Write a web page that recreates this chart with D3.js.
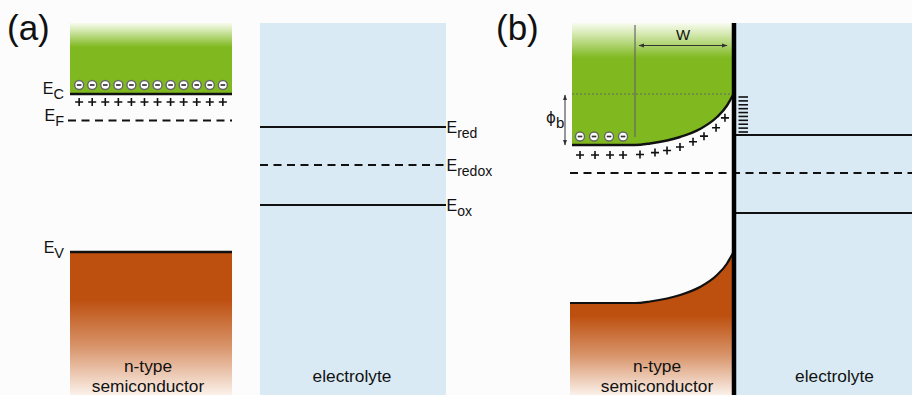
<!DOCTYPE html>
<html>
<head>
<meta charset="utf-8">
<script src="https://cdn.jsdelivr.net/npm/d3@7"></script>
<style>
  html, body { margin: 0; padding: 0; background: #fcfcfc; }
  svg { display: block; }
  text { font-family: "Liberation Sans", Arial, sans-serif; fill: #111; }
</style>
</head>
<body>
<svg id="chart" width="912" height="395"></svg>
<script>
// ---- band-diagram values (energies in eV, relative to the flat-band E_C) ----
const panelLabels = ["(a)", "(b)"];
const semiLevelNames = ["C", "F", "V"];
const semiLevelsA = [0, -0.265, -1.58];          // E_C, E_F, E_V before contact
const redoxNames = ["red", "redox", "ox"];
const redoxLevels = [-0.33, -0.71, -1.11];       // E_red, E_redox, E_ox
const bandGap = 1.58;
const bulkConductionB = -0.43;                   // bulk E_C after equilibration
const barrierHeight = 0.50;                      // phi_b
const electronCountA = 12;
const holeCountA = 12;
// band-bending profile: depth (in units of W) vs fraction of phi_b
const bendDepth    = [0, 0.031, 0.061, 0.163, 0.337, 0.54, 0.673, 0.847, 1.0, 1.64];
const bendFraction = [1, 0.89, 0.79, 0.56, 0.32, 0.16, 0.09, 0.03, 0.0, 0.0];
const electronDepthB = [1.561, 1.418, 1.265, 1.122];
const holeDepthB = [1.561, 1.408, 1.255, 1.122, 0.949, 0.796, 0.673, 0.541, 0.408, 0.296, 0.173, 0.082];
const surfaceStateRange = [0.05, -0.30];
const surfaceStateCount = 10;
const wArrowDepth = [0.061, 0.959];
const sideLabels = ["n-type", "semiconductor", "electrolyte"];

// ---- geometry ----
const yTop = 23, yBottom = 395;
const A = { semi: [70, 232], elec: [260, 446] };
const B = { semi: [572, 733], iface: 734, elec: [736, 912] };
const green = "#7fb91f", orange = "#bd4f0f", electrolyteFill = "#daeaf5";
const labelSize = 17.3;

const svg = d3.select("#chart");
const defs = svg.append("defs");

function vGrad(id, stops, y1, y2) {
  const g = defs.append("linearGradient").attr("id", id)
    .attr("gradientUnits", "userSpaceOnUse")
    .attr("x1", 0).attr("x2", 0).attr("y1", y1).attr("y2", y2);
  stops.forEach(([o, c]) => g.append("stop").attr("offset", o).attr("stop-color", c));
}
vGrad("greenA", [[0, "#fbfdf6"], [0.3, "#d9ebb8"], [1, green]], 22, 47);
vGrad("greenB", [[0, "#fbfdf6"], [0.3, "#d9ebb8"], [1, green]], 22, 58);
vGrad("orangeA", [[0, orange], [0.33, orange], [0.66, "#d8946a"], [1, "#fbf1ea"]], 252, 395);
vGrad("orangeB", [[0, orange], [0.44, orange], [0.72, "#d8946a"], [1, "#fbf1ea"]], 253, 395);

// arrow markers
["start", "end"].forEach(k => {
  defs.append("marker").attr("id", "arr-" + k)
    .attr("viewBox", "0 0 10 10").attr("refX", k === "end" ? 9 : 1).attr("refY", 5)
    .attr("markerWidth", 6).attr("markerHeight", 6)
    .attr("orient", "auto")
    .append("path")
    .attr("d", k === "end" ? "M0,1.5 L10,5 L0,8.5 Z" : "M10,1.5 L0,5 L10,8.5 Z")
    .attr("fill", "#333");
});

// energy scales for each panel
const yA = d3.scaleLinear().domain([0, -1]).range([94, 194]);
const yB = d3.scaleLinear().domain([0, -1]).range([102, 202]);
const xDepth = d3.scaleLinear().domain([0, 1]).range([B.iface - 1, 635]);
const bend = d3.scaleLinear().domain(bendDepth).range(bendFraction).clamp(true);
const ecB = d => bulkConductionB + barrierHeight * bend(d);
const evB = d => ecB(d) - bandGap;

const eSlot = d3.scalePoint().domain(d3.range(electronCountA)).range(A.semi).padding(0.7);
const hSlot = d3.scalePoint().domain(d3.range(holeCountA)).range(A.semi).padding(0.7);

function electron(g, x, y) {
  g.append("circle").attr("cx", x).attr("cy", y).attr("r", 4.5)
    .attr("fill", "#fff").attr("stroke", "#666").attr("stroke-width", 1.4);
  g.append("line").attr("x1", x - 2.3).attr("x2", x + 2.3).attr("y1", y).attr("y2", y)
    .attr("stroke", "#333").attr("stroke-width", 1.7);
}
function hole(g, x, y) {
  g.append("path").attr("d", `M${x - 4},${y}H${x + 4}M${x},${y - 4}V${y + 4}`)
    .attr("stroke", "#111").attr("stroke-width", 1.6).attr("fill", "none");
}
function level(g, x0, x1, y, dashed, w) {
  g.append("line").attr("x1", x0).attr("x2", x1).attr("y1", y).attr("y2", y)
    .attr("stroke", "#111").attr("stroke-width", w || 2)
    .attr("stroke-dasharray", dashed ? "8,5.5" : null);
}
function eLabel(g, x, y, sub, anchor, size, subSize, dy) {
  const t = g.append("text").attr("x", x).attr("y", y).attr("text-anchor", anchor)
    .style("font-size", size + "px");
  t.append("tspan").text("E");
  t.append("tspan").attr("dy", dy).style("font-size", subSize + "px").text(sub);
}

// ================= panel (a) =================
const ga = svg.append("g");
ga.append("text").attr("x", 7).attr("y", 40).style("font-size", "35px").text(panelLabels[0]);

// conduction band
ga.append("rect").attr("x", A.semi[0]).attr("y", yTop).attr("width", A.semi[1] - A.semi[0])
  .attr("height", yA(semiLevelsA[0]) - yTop).attr("fill", "url(#greenA)");
// valence band
ga.append("rect").attr("x", A.semi[0]).attr("y", yA(semiLevelsA[2])).attr("width", A.semi[1] - A.semi[0])
  .attr("height", yBottom - yA(semiLevelsA[2])).attr("fill", "url(#orangeA)");
// electrolyte
ga.append("rect").attr("x", A.elec[0]).attr("y", yTop).attr("width", A.elec[1] - A.elec[0])
  .attr("height", yBottom - yTop).attr("fill", electrolyteFill);

level(ga, A.semi[0], A.semi[1], yA(semiLevelsA[0]), false, 2.6);
level(ga, A.semi[0] - 2, A.semi[1], yA(semiLevelsA[1]), true, 2);
level(ga, A.semi[0], A.semi[1], yA(semiLevelsA[2]), false, 2.4);

d3.range(electronCountA).forEach(i => electron(ga, eSlot(i), yA(semiLevelsA[0]) - 9));
d3.range(holeCountA).forEach(i => hole(ga, hSlot(i), yA(semiLevelsA[0]) + 8));

semiLevelNames.forEach((n, i) => {
  eLabel(ga, 64, yA(semiLevelsA[i]) + (i === 2 ? 1 : 0), n, "end", 16, 14.5, 5);
});

redoxLevels.forEach((e, i) => {
  level(ga, A.elec[0], A.elec[1], yA(e), i === 1, 2);
  eLabel(ga, A.elec[1] + 0.5, yA(e) + 6, redoxNames[i], "start", 16, 14, 5);
});

ga.append("text").attr("x", 148).attr("y", 372).attr("text-anchor", "middle")
  .style("font-size", labelSize + "px").text(sideLabels[0]);
ga.append("text").attr("x", 148).attr("y", 392).attr("text-anchor", "middle")
  .style("font-size", labelSize + "px").text(sideLabels[1]);
ga.append("text").attr("x", 352).attr("y", 382).attr("text-anchor", "middle")
  .style("font-size", labelSize + "px").text(sideLabels[2]);

// ================= panel (b) =================
const gb = svg.append("g");
gb.append("text").attr("x", 496).attr("y", 40).style("font-size", "35px").text(panelLabels[1]);

const depthsAsc = bendDepth.slice().reverse();   // left-to-right ordering in x
const deepest = bendDepth[bendDepth.length - 1];

// electrolyte
gb.append("rect").attr("x", B.elec[0]).attr("y", yTop).attr("width", B.elec[1] - B.elec[0])
  .attr("height", yBottom - yTop).attr("fill", electrolyteFill);

const ptsC = depthsAsc.map(d => [d === deepest ? B.semi[0] : xDepth(d), yB(ecB(d))]);
const ptsV = depthsAsc.map(d => [d === deepest ? B.semi[0] - 2 : xDepth(d), yB(evB(d))]);

const areaTop = d3.area().x(p => p[0]).y0(yTop).y1(p => p[1]).curve(d3.curveMonotoneX);
const areaBot = d3.area().x(p => p[0]).y0(yBottom).y1(p => p[1]).curve(d3.curveMonotoneX);
const bandLine = d3.line().x(p => p[0]).y(p => p[1]).curve(d3.curveMonotoneX);

gb.append("path").attr("d", areaTop(ptsC)).attr("fill", "url(#greenB)");
gb.append("path").attr("d", areaBot(ptsV)).attr("fill", "url(#orangeB)");
gb.append("path").attr("d", bandLine(ptsC)).attr("fill", "none").attr("stroke", "#111").attr("stroke-width", 2.4);
gb.append("path").attr("d", bandLine(ptsV)).attr("fill", "none").attr("stroke", "#111").attr("stroke-width", 2.2);

// surface conduction-band level (dotted) and depletion edge
const ySurf = yB(bulkConductionB + barrierHeight);
gb.append("line").attr("x1", B.semi[0]).attr("x2", B.iface - 2).attr("y1", ySurf - 1).attr("y2", ySurf - 1)
  .attr("stroke", "#666").attr("stroke-width", 1).attr("stroke-dasharray", "2,2");
gb.append("line").attr("x1", xDepth(1)).attr("x2", xDepth(1)).attr("y1", 25).attr("y2", 137)
  .attr("stroke", "#666").attr("stroke-width", 1.2);

// W arrow
gb.append("line").attr("x1", xDepth(wArrowDepth[1])).attr("x2", xDepth(wArrowDepth[0]))
  .attr("y1", 45.5).attr("y2", 45.5).attr("stroke", "#333").attr("stroke-width", 1)
  .attr("marker-start", "url(#arr-start)").attr("marker-end", "url(#arr-end)");
gb.append("text").attr("x", 683).attr("y", 40).attr("text-anchor", "middle")
  .style("font-size", "15px").text("W");

// phi_b arrow
gb.append("line").attr("x1", 565).attr("x2", 565).attr("y1", ySurf).attr("y2", yB(bulkConductionB))
  .attr("stroke", "#333").attr("stroke-width", 1)
  .attr("marker-start", "url(#arr-start)").attr("marker-end", "url(#arr-end)");
const phi = gb.append("text").attr("x", 546).attr("y", 123).style("font-size", "15px")
  .style("font-family", "'DejaVu Sans', sans-serif");
phi.append("tspan").text("\u03D5");
phi.append("tspan").attr("dy", 5).style("font-family", "'Liberation Sans', Arial, sans-serif")
  .style("font-size", "15px").text("b");

// electrons and ionized donors
electronDepthB.forEach(d => electron(gb, xDepth(d), yB(ecB(d)) - 8.5));
holeDepthB.forEach(d => hole(gb, xDepth(d), yB(ecB(d)) + 10));

// surface states
const ss = d3.scaleLinear().domain([0, surfaceStateCount - 1]).range(surfaceStateRange.map(yB));
d3.range(surfaceStateCount).forEach(i => {
  gb.append("line").attr("x1", 738.5).attr("x2", 748).attr("y1", ss(i)).attr("y2", ss(i))
    .attr("stroke", "#111").attr("stroke-width", 1.6);
});

// electrolyte levels
redoxLevels.forEach((e, i) => {
  level(gb, i === 1 ? 570 : B.elec[0], B.elec[1], yB(e), i === 1, 2);
});

// interface
gb.append("line").attr("x1", B.iface).attr("x2", B.iface).attr("y1", yTop).attr("y2", yBottom)
  .attr("stroke", "#000").attr("stroke-width", 4.5);

gb.append("text").attr("x", 657).attr("y", 372).attr("text-anchor", "middle")
  .style("font-size", labelSize + "px").text(sideLabels[0]);
gb.append("text").attr("x", 657).attr("y", 392).attr("text-anchor", "middle")
  .style("font-size", labelSize + "px").text(sideLabels[1]);
gb.append("text").attr("x", 834.5).attr("y", 382).attr("text-anchor", "middle")
  .style("font-size", labelSize + "px").text(sideLabels[2]);
</script>
</body>
</html>
